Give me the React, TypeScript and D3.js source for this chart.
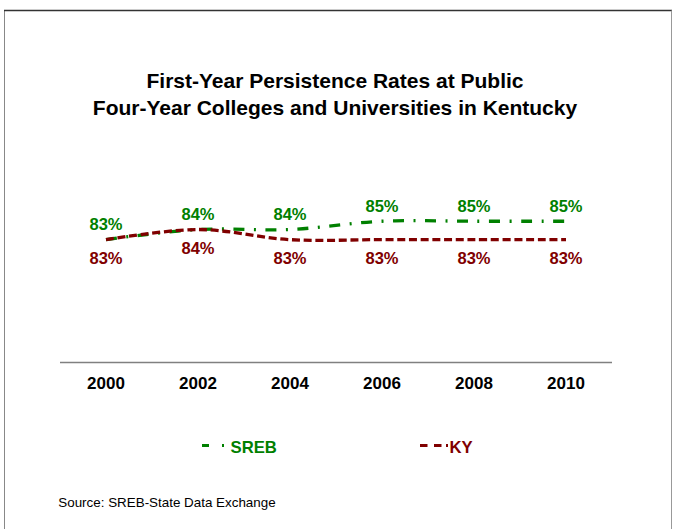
import React from "react";
import * as d3 from "d3";

const years = ["2000", "2002", "2004", "2006", "2008", "2010"];
const sreb = [83.3, 84.4, 84.4, 85.3, 85.3, 85.3];
const ky = [83.3, 84.4, 83.3, 83.3, 83.3, 83.3];
const titleLines = [
  "First-Year Persistence Rates at Public",
  "Four-Year Colleges and Universities in Kentucky",
];
const source = "Source: SREB-State Data Exchange";

const W = 673;
const H = 529;
const GREEN = "#008000";
const RED = "#800000";
const FONT = "Liberation Sans, Arial, sans-serif";

export default function App() {
  const x = d3.scaleBand<string>().domain(years).range([60, 612]);
  const y = d3.scaleLinear().domain([70, 90]).range([362, 178]);
  const cx = (d: string) => (x(d) ?? 0) + x.bandwidth() / 2;
  const line = d3
    .line<number>()
    .x((_, i) => cx(years[i]))
    .y((v) => y(v))
    .curve(d3.curveCatmullRom.alpha(0.5));
  const fmt = (v: number) => `${Math.round(v)}%`;

  return (
    <svg
      width={W}
      height={H}
      style={{ position: "absolute", left: 0, top: 0, background: "#fff" }}
      fontFamily={FONT}
    >
      <rect x={0} y={0} width={W} height={H} fill="#fff" />
      <line x1={4.5} y1={H + 2} x2={4.5} y2={10.5} stroke="#888" strokeWidth={1} />
      <line x1={4} y1={10.5} x2={672} y2={10.5} stroke="#333" strokeWidth={1.5} />
      <line x1={671.5} y1={10.5} x2={671.5} y2={H + 2} stroke="#999" strokeWidth={1} />

      {titleLines.map((t, i) => (
        <text
          key={i}
          x={335}
          y={87.5 + i * 27}
          textAnchor="middle"
          fontWeight="bold"
          fontSize={21}
          fill="#000"
        >
          {t}
        </text>
      ))}

      <line x1={60} x2={612} y1={362.5} y2={362.5} stroke="#808080" strokeWidth={1.5} />
      {years.map((yr) => (
        <text
          key={yr}
          x={cx(yr)}
          y={389}
          textAnchor="middle"
          fontWeight="bold"
          fontSize={17}
          fill="#000"
        >
          {yr}
        </text>
      ))}

      <path
        d={line(sreb) ?? ""}
        fill="none"
        stroke={GREEN}
        strokeWidth={3.3}
        strokeDasharray="11 9.5 2 9.5"
      />
      <path
        d={line(ky) ?? ""}
        fill="none"
        stroke={RED}
        strokeWidth={3.3}
        strokeDasharray="8 3.7"
      />

      {sreb.map((v, i) => (
        <text
          key={"s" + i}
          x={cx(years[i])}
          y={y(v) - 9.5}
          textAnchor="middle"
          fontWeight="bold"
          fontSize={16.5}
          fill={GREEN}
        >
          {fmt(v)}
        </text>
      ))}
      {ky.map((v, i) => (
        <text
          key={"k" + i}
          x={cx(years[i])}
          y={y(v) + 24}
          textAnchor="middle"
          fontWeight="bold"
          fontSize={16.5}
          fill={RED}
        >
          {fmt(v)}
        </text>
      ))}

      {/* legend */}
      <g>
        <line x1={202} x2={209} y1={445.5} y2={445.5} stroke={GREEN} strokeWidth={3} />
        <line x1={222} x2={224} y1={445.5} y2={445.5} stroke={GREEN} strokeWidth={3} />
        <text x={230.5} y={452.5} fontWeight="bold" fontSize={16.7} fill={GREEN}>
          SREB
        </text>
        <line x1={420} x2={427.5} y1={445.5} y2={445.5} stroke={RED} strokeWidth={3} />
        <line x1={434} x2={441.5} y1={445.5} y2={445.5} stroke={RED} strokeWidth={3} />
        <line x1={446} x2={448} y1={445.5} y2={445.5} stroke={RED} strokeWidth={3} />
        <text x={449.5} y={452.5} fontWeight="bold" fontSize={16.7} fill={RED}>
          KY
        </text>
      </g>

      <text x={58.3} y={507.3} fontSize={13.4} fill="#000">
        {source}
      </text>
    </svg>
  );
}
